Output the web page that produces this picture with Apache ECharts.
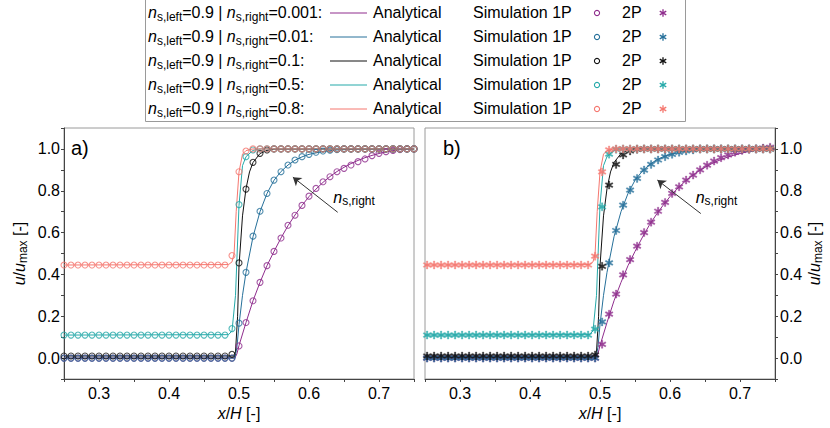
<!DOCTYPE html>
<html><head><meta charset="utf-8">
<script src="https://cdn.jsdelivr.net/npm/echarts@6/dist/echarts.min.js"></script>
<style>html,body{margin:0;padding:0;background:#fff}#c{width:830px;height:428px}</style>
</head><body><div id="c"></div>
<script>
// ---------- data ----------
const N_RIGHT = ['0.001', '0.01', '0.1', '0.5', '0.8'];
const COLORS = ['#8F2D8D', '#26709A', '#111111', '#25A9A9', '#F5776F'];
const HALO = ['rgba(143,45,141,0.35)', 'rgba(38,112,154,0.35)', 'rgba(17,17,17,0.3)', 'rgba(37,169,169,0.35)', 'rgba(245,119,111,0.35)'];

// x positions of the 1P simulation points (panel a)
const X1 = [
  0.25,0.26,0.27,0.28,0.29,0.30,0.31,0.32,0.33,0.34,
  0.35,0.36,0.37,0.38,0.39,0.40,0.41,0.42,0.43,0.44,
  0.45,0.46,0.47,0.48,0.49,0.50,0.51,0.52,0.53,0.54,
  0.55,0.56,0.57,0.58,0.59,0.60,0.61,0.62,0.63,0.64,
  0.65,0.66,0.67,0.68,0.69,0.70,0.71,0.72,0.73,0.74,
  0.75];
// x positions of the 2P simulation points (panel b)
const X2 = [
  0.253,0.263,0.273,0.283,0.293,0.303,0.313,0.323,0.333,0.343,
  0.353,0.363,0.373,0.383,0.393,0.403,0.413,0.423,0.433,0.443,
  0.453,0.463,0.473,0.483,0.493,0.503,0.513,0.523,0.533,0.543,
  0.553,0.563,0.573,0.583,0.593,0.603,0.613,0.623,0.633,0.643,
  0.653,0.663,0.673,0.683,0.693,0.703,0.713,0.723,0.733,0.743];

// Simulation 1P (panel a)
const SIM1P_0001 = [
  0,0,0,0,0,0,0,0,0,0,
  0,0,0,0,0,0,0,0,0,0,
  0,0,0,0,0,0.058,0.17,0.274,0.362,0.442,
  0.51,0.574,0.635,0.683,0.73,0.774,0.811,0.843,0.867,0.891,
  0.907,0.923,0.939,0.952,0.968,0.979,0.987,0.993,0.997,1.0,
  1.0];
const SIM1P_001 = [
  0,0,0,0,0,0,0,0,0,0,
  0,0,0,0,0,0,0,0,0,0,
  0,0,0,0,0,0.167,0.41,0.583,0.702,0.787,
  0.851,0.891,0.923,0.947,0.963,0.974,0.984,0.99,0.994,0.997,
  1,1,1,1,1,1,1,1,1,1,
  1];
const SIM1P_01 = [
  0.01,0.01,0.01,0.01,0.01,0.01,0.01,0.01,0.01,0.01,
  0.01,0.01,0.01,0.01,0.01,0.01,0.01,0.01,0.01,0.01,
  0.01,0.01,0.01,0.01,0.018,0.455,0.808,0.936,0.979,0.995,
  1,1,1,1,1,1,1,1,1,1,
  1,1,1,1,1,1,1,1,1,1,
  1];
const SIM1P_05 = [
  0.11,0.11,0.11,0.11,0.11,0.11,0.11,0.11,0.11,0.11,
  0.11,0.11,0.11,0.11,0.11,0.11,0.11,0.11,0.11,0.11,
  0.11,0.11,0.11,0.11,0.141,0.734,0.963,0.995,1,1,
  1,1,1,1,1,1,1,1,1,1,
  1,1,1,1,1,1,1,1,1,1,
  1];
const SIM1P_08 = [
  0.445,0.445,0.445,0.445,0.445,0.445,0.445,0.445,0.445,0.445,
  0.445,0.445,0.445,0.445,0.445,0.445,0.445,0.445,0.445,0.445,
  0.445,0.445,0.445,0.445,0.49,0.891,0.99,1,1,1,
  1,1,1,1,1,1,1,1,1,1,
  1,1,1,1,1,1,1,1,1,1,
  1];

// Simulation 2P (panel b)
const SIM2P_0001 = [
  0,0,0,0,0,0,0,0,0,0,
  0,0,0,0,0,0,0,0,0,0,
  0,0,0,0,0,0.066,0.21,0.306,0.398,0.471,
  0.535,0.60,0.65,0.702,0.744,0.787,0.819,0.851,0.875,0.90,
  0.922,0.942,0.958,0.971,0.984,0.993,0.998,1.0,1.004,1.008];
const SIM2P_001 = [
  0,0,0,0,0,0,0,0,0,0,
  0,0,0,0,0,0,0,0,0,0,
  0,0,0,0,0,0.173,0.455,0.61,0.731,0.803,
  0.859,0.899,0.926,0.947,0.963,0.974,0.984,0.99,0.995,1.0,
  1,1,1,1,1,1,1,1,1,1];
const SIM2P_01 = [
  0.01,0.01,0.01,0.01,0.01,0.01,0.01,0.01,0.01,0.01,
  0.01,0.01,0.01,0.01,0.01,0.01,0.01,0.01,0.01,0.01,
  0.01,0.01,0.01,0.01,0.015,0.439,0.827,0.926,0.971,0.99,
  0.998,1,1,1,1,1,1,1,1,1,
  1,1,1,1,1,1,1,1,1,1];
const SIM2P_05 = [
  0.11,0.11,0.11,0.11,0.11,0.11,0.11,0.11,0.11,0.11,
  0.11,0.11,0.11,0.11,0.11,0.11,0.11,0.11,0.11,0.11,
  0.11,0.11,0.11,0.11,0.138,0.723,0.975,0.998,1,1,
  1,1,1,1,1,1,1,1,1,1,
  1,1,1,1,1,1,1,1,1,1];
const SIM2P_08 = [
  0.445,0.445,0.445,0.445,0.445,0.445,0.445,0.445,0.445,0.445,
  0.445,0.445,0.445,0.445,0.445,0.445,0.445,0.445,0.445,0.445,
  0.445,0.445,0.445,0.445,0.487,0.89,0.995,1,1,1,
  1,1,1,1,1,1,1,1,1,1,
  1,1,1,1,1,1,1,1,1,1];

// Analytical solutions [x, u/umax]
const ANA_0001 = [[0.25,0],[0.494,0],[0.497,0.02],[0.50,0.06],[0.51,0.17],[0.52,0.274],[0.53,0.362],
  [0.54,0.442],[0.55,0.51],[0.56,0.574],[0.57,0.633],[0.58,0.684],[0.59,0.73],[0.60,0.772],[0.61,0.808],
  [0.62,0.84],[0.63,0.868],[0.64,0.892],[0.65,0.912],[0.66,0.93],[0.67,0.945],[0.68,0.958],[0.69,0.969],
  [0.70,0.978],[0.71,0.986],[0.72,0.992],[0.73,0.996],[0.74,0.999],[0.75,1.0]];
const ANA_001 = [[0.25,0],[0.494,0],[0.497,0.05],[0.50,0.16],[0.505,0.30],[0.51,0.41],[0.52,0.58],
  [0.53,0.70],[0.54,0.787],[0.55,0.85],[0.56,0.892],[0.57,0.923],[0.58,0.946],[0.59,0.962],[0.60,0.974],
  [0.62,0.988],[0.64,0.995],[0.67,0.999],[0.75,1]];
const ANA_01 = [[0.25,0.01],[0.492,0.01],[0.495,0.03],[0.498,0.2],[0.50,0.44],[0.505,0.68],[0.51,0.81],
  [0.515,0.89],[0.52,0.935],[0.53,0.978],[0.54,0.993],[0.55,0.999],[0.75,1]];
const ANA_05 = [[0.25,0.11],[0.485,0.112],[0.49,0.13],[0.495,0.30],[0.50,0.73],[0.505,0.92],[0.51,0.963],
  [0.52,0.993],[0.53,1],[0.75,1]];
const ANA_08 = [[0.25,0.445],[0.485,0.447],[0.49,0.46],[0.493,0.50],[0.496,0.70],[0.50,0.89],[0.505,0.975],
  [0.51,0.992],[0.52,1],[0.75,1]];

const ANALYTICAL = [ANA_0001, ANA_001, ANA_01, ANA_05, ANA_08];
const SIM1P = [SIM1P_0001, SIM1P_001, SIM1P_01, SIM1P_05, SIM1P_08];
const SIM2P = [SIM2P_0001, SIM2P_001, SIM2P_01, SIM2P_05, SIM2P_08];

// annotation arrows [from, to] in data coordinates
const ARROW_A = [[0.641, 0.697], [0.577, 0.865]];
const ARROW_B = [[0.644, 0.691], [0.582, 0.851]];
const ARROW_LABEL_A = [0.634, 0.77];
const ARROW_LABEL_B = [0.636, 0.77];

// ---------- styling ----------
const FONT = '"Liberation Sans", Arial, Helvetica, sans-serif';
const RICH = {
  i: {fontStyle: 'italic', fontSize: 16, fontFamily: FONT, color: '#000', lineHeight: 20},
  t: {fontSize: 16, fontFamily: FONT, color: '#000', lineHeight: 20},
  s: {fontSize: 12, fontFamily: FONT, color: '#000', lineHeight: 12, verticalAlign: 'bottom'}
};
// asterisk made of three bars (6 spokes) in a 20x20 box
const ASTER_BARS = [
  [[8.4,1],[11.6,1],[11.6,19],[8.4,19]],
  [[16.994,4.114],[18.594,6.886],[3.006,15.886],[1.406,13.114]],
  [[18.594,13.114],[16.994,15.886],[1.406,6.886],[3.006,4.114]]
];
const ASTER_PATH = ASTER_BARS.map(b => 'M' + b.map(p => p.join(',')).join('L') + 'Z').join('');

function zip(xs, ys) { return ys.map((y, k) => [xs[k], y]); }

function xAxis(gi) {
  return {
    type: 'value', gridIndex: gi, min: 0.25, max: 0.75, interval: 0.05,
    name: '{i|x}{t|/}{i|H}{t| [-]}', nameLocation: 'middle', nameGap: 20,
    nameTextStyle: {rich: RICH},
    axisLine: {show: true, onZero: false, lineStyle: {color: '#444', width: 1}},
    axisTick: {show: true, inside: false, length: 3, lineStyle: {color: '#444'}},
    axisLabel: {color: '#000', fontSize: 16, fontFamily: FONT, margin: 6,
      formatter: v => (Math.round(v * 100) % 10 === 0 ? v.toFixed(1) : '')},
    splitLine: {show: false}
  };
}
function yAxis(gi, pos) {
  return {
    type: 'value', gridIndex: gi, position: pos, min: -0.1, max: 1.1, interval: 0.1,
    name: '{i|u}{t|/}{i|u}{s|max}{t| [-]}',
    nameLocation: 'middle', nameRotate: 90, nameGap: pos === 'left' ? 35 : 29,
    nameTextStyle: {rich: RICH},
    axisLine: {show: true, onZero: false, lineStyle: {color: '#444', width: 1}},
    axisTick: {show: true, inside: false, length: 3, lineStyle: {color: '#444'}},
    axisLabel: {color: '#000', fontSize: 16, fontFamily: FONT, margin: pos === 'left' ? 4 : 5,
      formatter: v => { const k = Math.round(v * 10); return (k >= 0 && k <= 10 && k % 2 === 0) ? (k / 10).toFixed(1) : ''; }},
    splitLine: {show: false}
  };
}

const series = [];
[0, 1].forEach(gi => {
  ANALYTICAL.forEach((d, i) => {
    series.push({type: 'line', xAxisIndex: gi, yAxisIndex: gi, data: d, showSymbol: false,
      lineStyle: {color: COLORS[i], width: 1}, itemStyle: {color: COLORS[i]}, z: 2, silent: true, animation: false});
  });
  const sims = gi === 0 ? SIM1P : SIM2P;
  const xs = gi === 0 ? X1 : X2;
  sims.forEach((d, i) => {
    const s = {type: 'scatter', xAxisIndex: gi, yAxisIndex: gi, data: zip(xs, d), silent: true, animation: false, z: 3};
    if (gi === 0) {
      s.symbol = 'circle'; s.symbolSize = 6;
      s.itemStyle = {color: 'rgba(255,255,255,0)', borderColor: COLORS[i], borderWidth: 1.1};
    } else {
      s.symbol = 'path://' + ASTER_PATH; s.symbolSize = 8;
      s.itemStyle = {color: COLORS[i], borderColor: HALO[i], borderWidth: 1};
    }
    series.push(s);
  });
  const arrow = gi === 0 ? ARROW_A : ARROW_B;
  const lab = gi === 0 ? ARROW_LABEL_A : ARROW_LABEL_B;
  series.push({type: 'line', xAxisIndex: gi, yAxisIndex: gi, data: [], silent: true, animation: false,
    markLine: {silent: true, animation: false, symbol: ['none', 'arrow'], symbolSize: 8,
      lineStyle: {color: '#333', width: 1, type: 'solid'}, label: {show: false},
      data: [[{coord: arrow[0]}, {coord: arrow[1]}]]},
    markPoint: {silent: true, animation: false, symbol: 'circle', symbolSize: 1,
      itemStyle: {color: 'rgba(0,0,0,0)'},
      label: {show: true, position: 'right', distance: 0, formatter: '{i|n}{s|s,right}', rich: RICH},
      data: [{coord: lab}]}
  });
});

// ---------- legend (drawn as graphic) ----------
const graphic = [];
graphic.push({type: 'rect', shape: {x: 145.5, y: -1, width: 540, height: 122.5},
  style: {fill: '#fff', stroke: '#9a9a9a', lineWidth: 1}, z: 10});
N_RIGHT.forEach((nr, i) => {
  const y = 12.5 + 24 * i;
  const c = COLORS[i];
  graphic.push({type: 'text', x: 148, y: y, z: 11, style: {
    text: '{i|n}{s|s,left}{t|=0.9 | }{i|n}{s|s,right}{t|=' + nr + ':}', rich: RICH,
    fontSize: 16, fontFamily: FONT, fill: '#000', align: 'left', verticalAlign: 'middle'}});
  graphic.push({type: 'line', z: 11, shape: {x1: 330, y1: y + 0.5, x2: 367, y2: y + 0.5}, style: {stroke: c, lineWidth: 1}});
  graphic.push({type: 'text', x: 373, y: y, z: 11, style: {text: 'Analytical', fontSize: 16, fontFamily: FONT,
    fill: '#000', align: 'left', verticalAlign: 'middle'}});
  graphic.push({type: 'text', x: 473, y: y, z: 11, style: {text: 'Simulation 1P', fontSize: 16, fontFamily: FONT,
    fill: '#000', align: 'left', verticalAlign: 'middle'}});
  graphic.push({type: 'circle', z: 11, shape: {cx: 597, cy: y + 0.5, r: 2.6}, style: {fill: 'none', stroke: c, lineWidth: 1.1}});
  graphic.push({type: 'text', x: 622, y: y, z: 11, style: {text: '2P', fontSize: 16, fontFamily: FONT,
    fill: '#000', align: 'left', verticalAlign: 'middle'}});
  const cx = 663, cy = y + 0.5, sc = 7.5 / 18;
  ASTER_BARS.forEach(b => {
    graphic.push({type: 'polygon', z: 11, shape: {points: b.map(p => [cx + (p[0] - 10) * sc, cy + (p[1] - 10) * sc])},
      style: {fill: c}});
  });
});
graphic.push({type: 'text', x: 71, y: 148, z: 11, style: {text: 'a)', fontSize: 20, fontFamily: FONT, fill: '#000',
  align: 'left', verticalAlign: 'middle'}});
graphic.push({type: 'text', x: 443, y: 148, z: 11, style: {text: 'b)', fontSize: 20, fontFamily: FONT, fill: '#000',
  align: 'left', verticalAlign: 'middle'}});

const chart = echarts.init(document.getElementById('c'), null, {renderer: 'svg'});
chart.setOption({
  animation: false,
  backgroundColor: '#fff',
  grid: [
    {left: 64, right: 416, top: 128, bottom: 49, show: true, borderColor: '#9a9a9a', borderWidth: 1, backgroundColor: 'rgba(0,0,0,0)'},
    {left: 425, right: 55, top: 128, bottom: 49, show: true, borderColor: '#9a9a9a', borderWidth: 1, backgroundColor: 'rgba(0,0,0,0)'}
  ],
  xAxis: [xAxis(0), xAxis(1)],
  yAxis: [yAxis(0, 'left'), yAxis(1, 'right')],
  series: series,
  graphic: graphic
});
</script></body></html>
